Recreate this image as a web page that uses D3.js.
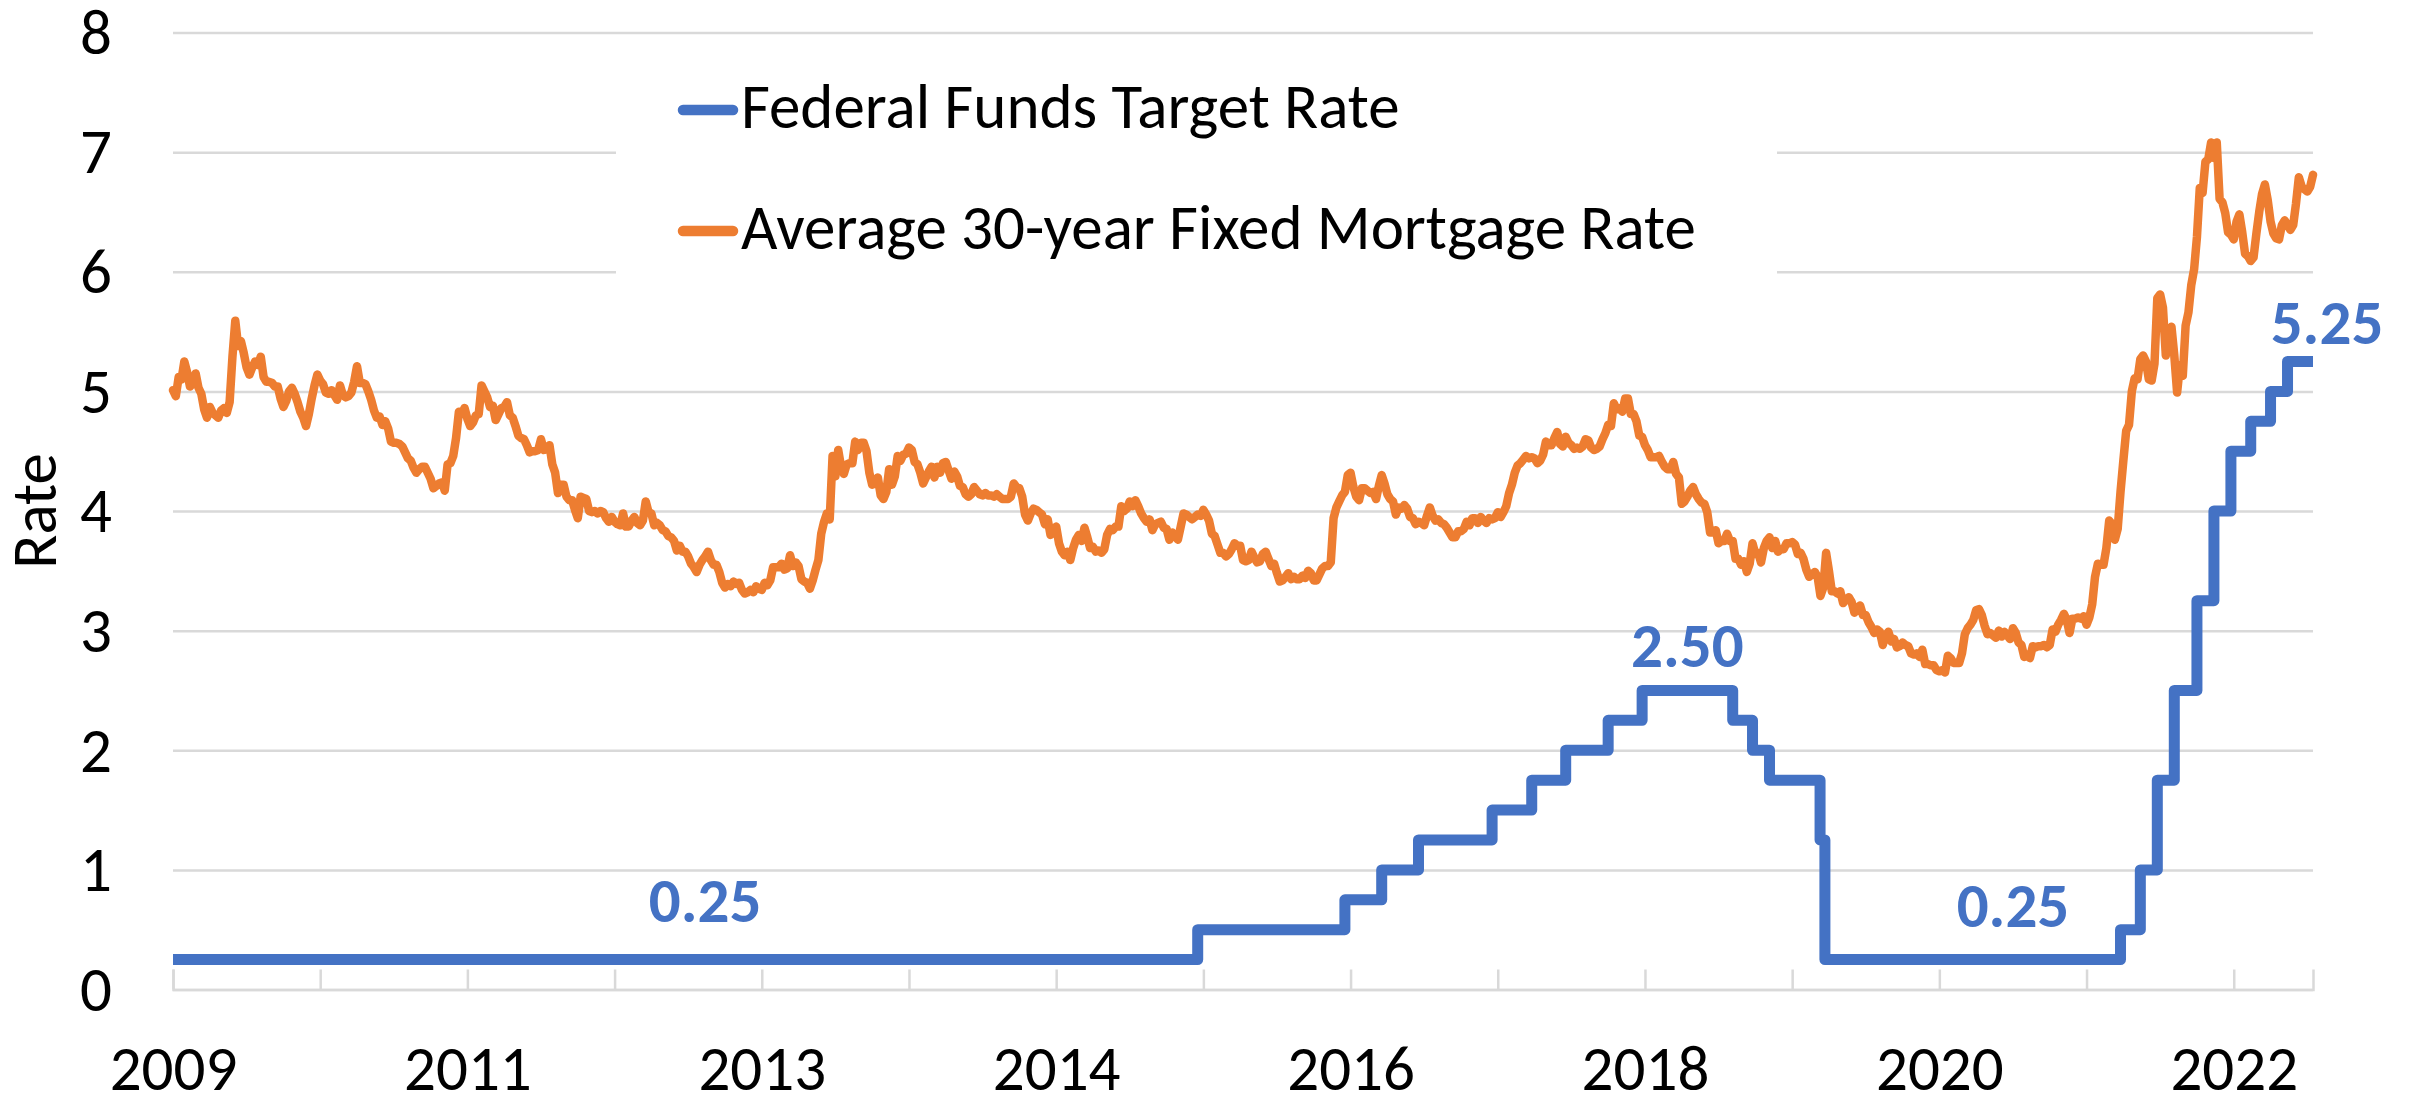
<!DOCTYPE html>
<html>
<head>
<meta charset="utf-8">
<script src="https://cdn.jsdelivr.net/npm/d3@7"></script>
<style>
  body { margin: 0; background: #fff; }
  text { font-family: Calibri, Carlito, Lato, sans-serif; }
</style>
</head>
<body>
<script>
var seriesNames = ["Federal Funds Target Rate", "Average 30-year Fixed Mortgage Rate"];
var seriesColors = ["#4472C4", "#ED7D31"];
var yearLabels = ["2009", "2011", "2013", "2014", "2016", "2018", "2020", "2022"];
var yTicks = [0, 1, 2, 3, 4, 5, 6, 7, 8];

// weekly categories, first one is this Thursday
var firstWeek = "2009-01-08";

// average 30-year fixed mortgage rate, weekly, one array per year
var mortgage2009 = [5.01,4.96,5.12,5.10, 5.25,5.16,5.04,5.07, 5.15,5.03,4.98,4.85, 4.78,4.87,4.82,4.80,4.78, 4.84,4.86,4.82,4.91, 5.29,5.59,5.38,5.42, 5.32,5.20,5.14,5.20,5.25, 5.22,5.29,5.12,5.08, 5.08,5.07,5.04,5.04, 4.94,4.87,4.92,5.00,5.03, 4.98,4.91,4.83,4.78, 4.71,4.81,4.94,5.05,5.14];
var mortgage2010 = [5.09,5.06,4.99,4.98, 5.01,4.97,4.93,5.05, 4.97,4.95,4.96,4.99, 5.08,5.21,5.07,5.07,5.06, 5.00,4.93,4.84,4.78, 4.79,4.72,4.75,4.69, 4.58,4.57,4.57,4.56,4.54, 4.49,4.44,4.42,4.36, 4.32,4.35,4.37,4.37,4.32, 4.27,4.19,4.21,4.23, 4.24,4.17,4.39,4.40, 4.46,4.61,4.83,4.81,4.86];
var mortgage2011 = [4.77,4.71,4.74,4.80, 4.81,5.05,5.00,4.95, 4.87,4.88,4.76,4.81,4.86, 4.87,4.91,4.80,4.78, 4.71,4.63,4.61,4.60, 4.55,4.49,4.50,4.50,4.51, 4.60,4.51,4.52,4.55, 4.39,4.32,4.15,4.22, 4.22,4.12,4.09,4.09,4.01, 3.94,4.12,4.11,4.10, 4.00,3.99,4.00,3.98, 4.00,3.99,3.94,3.91,3.95];
var mortgage2012 = [3.91,3.89,3.88,3.98, 3.87,3.87,3.92,3.95, 3.90,3.88,3.92,4.08,3.99, 3.98,3.88,3.90,3.88, 3.84,3.83,3.79,3.78,3.75, 3.67,3.71,3.66,3.66, 3.62,3.56,3.53,3.49, 3.55,3.59,3.62,3.66,3.59, 3.55,3.55,3.49,3.40, 3.36,3.39,3.37,3.41, 3.39,3.40,3.34,3.31,3.32, 3.34,3.32,3.37,3.35];
var mortgage2013 = [3.34,3.40,3.38,3.42,3.53, 3.53,3.53,3.56,3.51, 3.52,3.63,3.54,3.57, 3.54,3.43,3.41,3.40, 3.35,3.42,3.51,3.59,3.81, 3.91,3.98,3.93,4.46, 4.29,4.51,4.37,4.31, 4.39,4.40,4.40,4.58,4.51, 4.57,4.57,4.50,4.32, 4.22,4.23,4.28,4.13,4.10, 4.16,4.35,4.22,4.29, 4.46,4.42,4.47,4.48];
var mortgage2014 = [4.53,4.51,4.41,4.39,4.32, 4.23,4.28,4.33,4.37, 4.28,4.37,4.32,4.40, 4.41,4.34,4.27,4.33, 4.29,4.21,4.20,4.14,4.12, 4.14,4.20,4.17,4.14, 4.13,4.15,4.13,4.13,4.12, 4.14,4.12,4.10,4.10, 4.10,4.12,4.23,4.20, 4.19,4.12,3.97,3.92,3.98, 4.02,4.01,3.99,3.97, 3.89,3.93,3.80,3.83,3.87];
var mortgage2015 = [3.73,3.66,3.63,3.66, 3.59,3.69,3.76,3.80, 3.75,3.86,3.78,3.69, 3.70,3.66,3.67,3.65,3.68, 3.80,3.85,3.84,3.87, 3.87,4.04,4.00,4.02, 4.08,4.04,4.09,4.04,3.98, 3.94,3.91,3.93,3.84, 3.89,3.90,3.91,3.86, 3.85,3.76,3.82,3.79,3.76, 3.87,3.98,3.97,3.95, 3.93,3.95,3.97,3.96,4.01];
var mortgage2016 = [3.97,3.92,3.81,3.79, 3.72,3.65,3.65,3.62, 3.64,3.68,3.73,3.71,3.71, 3.59,3.58,3.59,3.66, 3.61,3.57,3.58,3.64, 3.66,3.60,3.54,3.56,3.48, 3.41,3.42,3.45,3.48, 3.43,3.45,3.43,3.43, 3.46,3.44,3.50,3.48,3.42, 3.42,3.47,3.52,3.54, 3.54,3.57,3.94,4.03, 4.08,4.13,4.16,4.30,4.32];
var mortgage2017 = [4.20,4.12,4.09,4.19, 4.19,4.17,4.15,4.16, 4.10,4.21,4.30,4.23,4.14, 4.10,4.08,3.97,4.03, 4.02,4.05,4.02,3.95, 3.94,3.89,3.91,3.90,3.88, 3.96,4.03,3.96,3.92, 3.93,3.90,3.89,3.86,3.82, 3.78,3.78,3.83,3.83, 3.85,3.91,3.88,3.94, 3.94,3.90,3.95,3.92,3.90, 3.94,3.93,3.94,3.99];
var mortgage2018 = [3.95,3.99,4.04,4.15, 4.22,4.32,4.38,4.40, 4.43,4.46,4.44,4.45,4.44, 4.40,4.42,4.47,4.58, 4.55,4.55,4.61,4.66,4.56, 4.54,4.62,4.57,4.55, 4.52,4.53,4.52,4.54, 4.60,4.59,4.53,4.51,4.52, 4.54,4.60,4.65,4.72, 4.71,4.90,4.85,4.86, 4.83,4.94,4.94,4.81,4.81, 4.75,4.63,4.62,4.55];
var mortgage2019 = [4.51,4.45,4.45,4.45,4.46, 4.41,4.37,4.35,4.35, 4.41,4.31,4.28,4.06, 4.08,4.12,4.17,4.20, 4.14,4.10,4.07,4.06,3.99, 3.82,3.82,3.84,3.73, 3.75,3.75,3.81,3.75, 3.75,3.60,3.60,3.55,3.58, 3.49,3.56,3.73,3.64, 3.65,3.57,3.69,3.75,3.78, 3.69,3.75,3.66,3.68, 3.68,3.73,3.73,3.74];
var mortgage2020 = [3.72,3.64,3.65,3.60,3.51, 3.45,3.47,3.49,3.45, 3.29,3.36,3.65,3.50, 3.33,3.33,3.31,3.33,3.23, 3.26,3.28,3.24,3.15, 3.18,3.21,3.13,3.13, 3.07,3.03,2.98,3.01,2.99, 2.88,2.96,2.99,2.91, 2.93,2.86,2.87,2.90, 2.88,2.87,2.81,2.80,2.81, 2.78,2.84,2.72,2.72, 2.71,2.71,2.67,2.66,2.67];
var mortgage2021 = [2.65,2.79,2.77,2.73, 2.73,2.73,2.81,2.97, 3.02,3.05,3.09,3.17, 3.18,3.13,3.04,2.97,2.98, 2.96,2.94,3.00,2.95, 2.99,2.96,2.93,3.02, 2.98,2.90,2.88,2.78,2.80, 2.77,2.87,2.86,2.87, 2.87,2.88,2.86,2.88,3.01, 2.99,3.05,3.09,3.14, 3.09,2.98,3.10,3.10, 3.11,3.10,3.12,3.05,3.11];
var mortgage2022 = [3.22,3.45,3.56,3.55, 3.55,3.69,3.92,3.89, 3.76,3.85,4.16,4.42,4.67, 4.72,5.00,5.11,5.10, 5.27,5.30,5.25,5.10, 5.09,5.23,5.78,5.81,5.70, 5.30,5.51,5.54,5.30, 4.99,5.22,5.13,5.55, 5.66,5.89,6.02,6.29,6.70, 6.66,6.92,6.94,7.08, 6.95,7.08,6.61,6.58, 6.49,6.33,6.31,6.27,6.42];
var mortgage2023 = [6.48,6.33,6.15,6.13, 6.09,6.12,6.32,6.50, 6.65,6.73,6.60,6.42,6.32, 6.28,6.27,6.39,6.43, 6.39,6.35,6.39,6.57, 6.79,6.71,6.69,6.67,6.71, 6.81];

// federal funds target rate (upper bound): date of each change and new level
var fedDates = ["2009-01-08","2015-12-17","2016-12-15","2017-03-16","2017-06-15","2017-12-14","2018-03-22","2018-06-14","2018-09-27","2018-12-20","2019-08-01","2019-09-19","2019-10-31","2020-03-04","2020-03-16","2022-03-17","2022-05-05","2022-06-16","2022-07-28","2022-09-22","2022-11-03","2022-12-15","2023-02-02","2023-03-23","2023-05-04","2023-07-06"];
var fedRates = [0.25,0.50,0.75,1.00,1.25,1.50,1.75,2.00,2.25,2.50,2.25,2.00,1.75,1.25,0.25,0.50,1.00,1.75,2.50,3.25,4.00,4.50,4.75,5.00,5.25,5.25];

// data labels on the fed line
var labelDates = ["2012-08-16","2019-04-11","2021-06-24","2023-07-06"];
var labelValues = [0.25, 2.50, 0.25, 5.25];

var w = 2412;
var h = 1099;

var margin = {
  top: 32.5,
  bottom: 109.5,
  left: 173,
  right: 99
};

var width = w - margin.left - margin.right;
var height = h - margin.top - margin.bottom;
var fontSize = "63px";

var parse = d3.timeParse("%Y-%m-%d");
var start = parse(firstWeek);

var mortgage = [].concat(mortgage2009, mortgage2010, mortgage2011, mortgage2012,
  mortgage2013, mortgage2014, mortgage2015, mortgage2016, mortgage2017,
  mortgage2018, mortgage2019, mortgage2020, mortgage2021, mortgage2022, mortgage2023);

function weekOf(s) {
  return d3.timeDay.count(start, parse(s)) / 7;
}

var svg = d3.select("body").append("svg")
            .attr("width", w)
            .attr("height", h)
            .style("display", "block");

svg.append("rect")
   .attr("width", w)
   .attr("height", h)
   .attr("fill", "#fff");

var chart = svg.append("g")
            .attr("transform", "translate(" + margin.left + "," + margin.top + ")");

var x = d3.scaleLinear()
          .domain([0, mortgage.length - 1])
          .range([0, width]);

var y = d3.scaleLinear()
          .domain([0, 8])
          .range([height, 0]);

var gray = "#d9d9d9";

// gridlines
var yGridlines = d3.axisLeft(y)
                  .tickValues(yTicks)
                  .tickSize(-width)
                  .tickFormat("");

chart.append("g")
     .call(yGridlines)
     .call(function(g){ g.select(".domain").remove(); })
     .selectAll("line")
     .attr("stroke", gray)
     .attr("stroke-width", 2.5);

// y labels
var yAxis = d3.axisLeft(y)
              .tickValues(yTicks)
              .tickSize(0)
              .tickPadding(61)
              .tickFormat(d3.format("d"));

var yg = chart.append("g").call(yAxis);
yg.select(".domain").remove();
yg.selectAll("text")
  .attr("fill", "#000")
  .style("font-size", fontSize)
  .attr("dy", "0.33em");

// x axis: one tick every 52 weeks, a label every second tick
var weekTicks = d3.range(0, mortgage.length, 52);
var xAxis = d3.axisBottom(x)
              .tickValues(weekTicks)
              .tickSize(-20)
              .tickPadding(56)
              .tickFormat(function(d, i){
                return i % 2 === 0 ? yearLabels[i / 2] : "";
              });

var xg = chart.append("g")
              .attr("transform", "translate(0," + height + ")")
              .call(xAxis);
xg.select(".domain").attr("stroke", gray).attr("stroke-width", 2.5);
xg.selectAll(".tick line").attr("stroke", gray).attr("stroke-width", 2.5);
xg.selectAll("text")
  .attr("fill", "#000")
  .style("font-size", fontSize);

// y title
svg.append("text")
   .attr("text-anchor", "middle")
   .attr("transform", "translate(56," + (margin.top + height / 2) + ") rotate(-90)")
   .style("font-size", fontSize)
   .attr("fill", "#000")
   .text("Rate");

// legend sits on a white box that hides the gridlines behind it
var legend = chart.append("g").attr("transform", "translate(443,0)");
legend.append("rect")
      .attr("x", 0)
      .attr("y", 18)
      .attr("width", 1161)
      .attr("height", 265)
      .attr("fill", "#fff");

var entries = legend.selectAll(".entry")
      .data(seriesNames)
      .enter()
      .append("g")
      .attr("transform", function(d, i){ return "translate(0," + (77.5 + i * 121) + ")"; });

entries.append("line")
       .attr("x1", 67)
       .attr("x2", 117)
       .attr("stroke", function(d, i){ return seriesColors[i]; })
       .attr("stroke-width", 10.5)
       .attr("stroke-linecap", "round");

entries.append("text")
       .attr("x", 125)
       .attr("y", 18)
       .style("font-size", fontSize)
       .attr("fill", "#000")
       .text(function(d){ return d; });

// fed funds line
var fedData = fedDates.map(function(d, i){
  return {week: weekOf(d), value: fedRates[i]};
});

var fedLine = d3.line()
                .x(function(d){ return x(d.week); })
                .y(function(d){ return y(d.value); })
                .curve(d3.curveStepAfter);

chart.append("path")
     .datum(fedData)
     .attr("d", fedLine)
     .attr("fill", "none")
     .attr("stroke", seriesColors[0])
     .attr("stroke-width", 11)
     .attr("stroke-linejoin", "round");

// mortgage line
var mortLine = d3.line()
                 .x(function(d, i){ return x(i); })
                 .y(function(d){ return y(d); });

chart.append("path")
     .datum(mortgage)
     .attr("d", mortLine)
     .attr("fill", "none")
     .attr("stroke", seriesColors[1])
     .attr("stroke-width", 8.5)
     .attr("stroke-linejoin", "round")
     .attr("stroke-linecap", "round");

// data labels
var labelLift = [38, 23, 33, 17];
var labelShift = [0, 0, 0, 14];

chart.selectAll(".dlabel")
     .data(labelDates)
     .enter()
     .append("text")
     .attr("class", "dlabel")
     .attr("x", function(d, i){ return x(weekOf(d)) + labelShift[i]; })
     .attr("y", function(d, i){ return y(labelValues[i]) - labelLift[i]; })
     .attr("text-anchor", "middle")
     .attr("fill", seriesColors[0])
     .style("font-size", fontSize)
     .style("font-weight", "bold")
     .text(function(d, i){ return labelValues[i].toFixed(2); });
</script>
</body>
</html>
